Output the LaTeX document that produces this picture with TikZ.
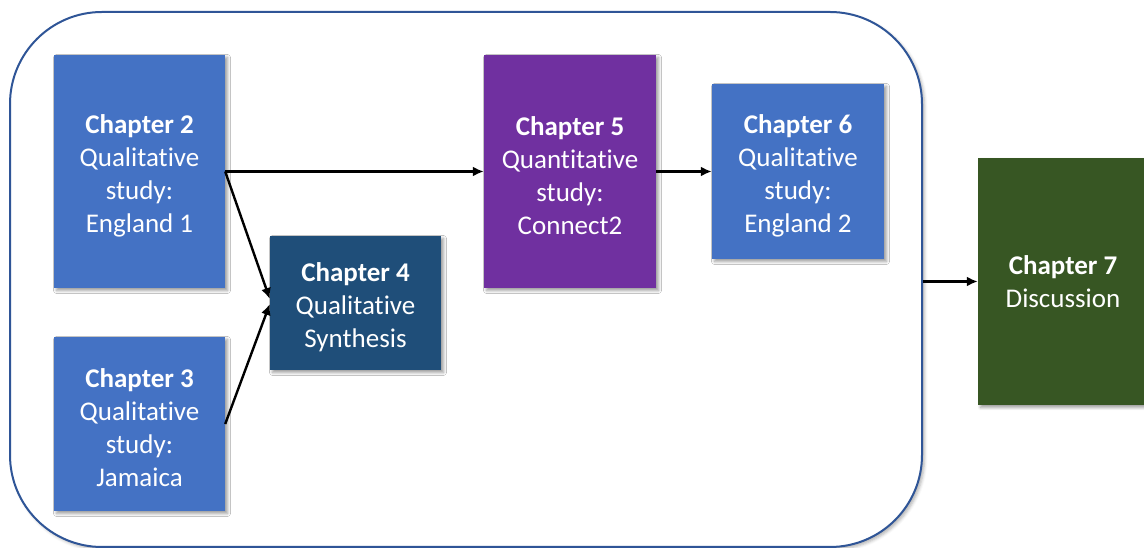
\documentclass[tikz,border=0pt]{standalone}
\usepackage{fontspec}
\setmainfont{Carlito}[Ligatures={NoCommon}]
\usetikzlibrary{arrows.meta,shadows.blur}
\definecolor{boxblue}{HTML}{4472C4}
\definecolor{deepblue}{HTML}{1F4E79}
\definecolor{boxpurple}{HTML}{7030A0}
\definecolor{boxgreen}{HTML}{375623}
\definecolor{frameblue}{HTML}{2F5597}
% extra room above the first line of a box's text
\newcommand{\headroom}{\rule{0pt}{27pt}}
\begin{document}
\begin{tikzpicture}[x=1pt,y=1pt,
  chapbox/.style={rectangle, fill=#1, draw=none, text=white, align=center,
    font=\fontsize{27}{33}\selectfont, inner sep=0pt,
    blur shadow={shadow xshift=2.5pt, shadow yshift=-2.5pt, shadow blur steps=6, shadow blur radius=3pt}},
  link/.style={line width=2.4pt, -{Latex[length=11pt,width=10pt]}}]
\useasboundingbox (0,0) rectangle (1144,548);
% enclosing frame for chapters 2 to 6
\node (frame) [rectangle, rounded corners=92pt, draw=frameblue, fill=white, line width=2pt,
  minimum width=912pt, minimum height=535pt, inner sep=0pt,
  blur shadow={shadow xshift=2.5pt, shadow yshift=-2.5pt, shadow opacity=30, shadow blur radius=3pt}] at (466,268.5) {};
% chapter boxes
\node (ch2) [chapbox=boxblue, minimum width=171pt, minimum height=233pt] at (139.5,376.5)
  {\headroom\textbf{Chapter 2}\\Qualitative\\study:\\England 1};
\node (ch3) [chapbox=boxblue, minimum width=171pt, minimum height=174pt] at (139.5,124)
  {\headroom\textbf{Chapter 3}\\Qualitative\\study:\\Jamaica};
\node (ch4) [chapbox=deepblue, minimum width=171pt, minimum height=134pt] at (355.5,245)
  {\headroom\textbf{Chapter 4}\\Qualitative\\Synthesis};
\node (ch5) [chapbox=boxpurple, minimum width=172pt, minimum height=233pt] at (570,376.5)
  {\headroom\textbf{Chapter 5}\\Quantitative\\study:\\Connect2};
\node (ch6) [chapbox=boxblue, minimum width=172pt, minimum height=175pt] at (798,376.5)
  {\headroom\textbf{Chapter 6}\\Qualitative\\study:\\England 2};
\node (ch7) [chapbox=boxgreen, minimum width=170pt, minimum height=247pt] at (1063,266.5)
  {\textbf{Chapter 7}\\Discussion};
% connectors
\draw[link] (ch2.east) -- (ch5.west);
\draw[link] (ch2.east) -- ([yshift=4pt]ch4.west);
\draw[link] (ch3.east) -- ([yshift=-1pt]ch4.west);
\draw[link] (ch5.east |- ch6.west) -- (ch6.west);
\draw[link] (ch7.west -| frame.east) -- (ch7.west);
\end{tikzpicture}
\end{document}
